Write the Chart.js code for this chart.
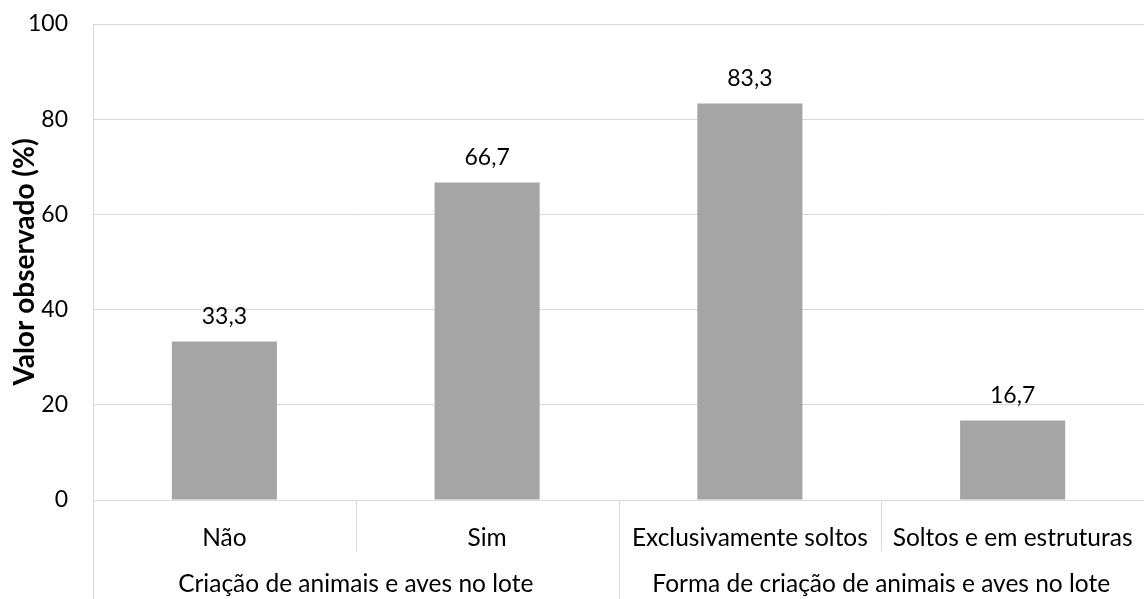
<!DOCTYPE html>
<html>
<head>
<meta charset="utf-8">
<script src="https://cdn.jsdelivr.net/npm/chart.js@4.4.0/dist/chart.umd.min.js"></script>
<style>
  body { margin: 0; background: #fff; }
  #wrap { width: 1144px; height: 599px; position: relative; }
</style>
</head>
<body>
<div id="wrap"><canvas id="myChart"></canvas></div>
<script>
// Data
const categories = ['Não', 'Sim', 'Exclusivamente soltos', 'Soltos e em estruturas'];
const values = [33.3, 66.7, 83.3, 16.7];
const groupLabels = ['Criação de animais e aves no lote', 'Forma de criação de animais e aves no lote'];
const groupSpans = [[0, 1], [2, 3]];
const yTicks = [0, 20, 40, 60, 80, 100];

const FONT = 'Lato, "Open Sans", sans-serif';
const NUM_SIZE = 23;
const TEXT_SIZE = 24.5;
const LINE = '#d9d9d9';

// value labels above the bars, group labels and separators below the axis
const extrasPlugin = {
  id: 'extras',
  afterDraw(chart) {
    const ctx = chart.ctx;
    const x = chart.scales.x;
    const area = chart.chartArea;
    const meta = chart.getDatasetMeta(0);

    ctx.save();
    ctx.fillStyle = '#000';
    ctx.textAlign = 'center';
    ctx.textBaseline = 'middle';
    ctx.font = NUM_SIZE + 'px ' + FONT;
    meta.data.forEach(function(bar, i) {
      ctx.fillText(values[i].toFixed(1).replace('.', ','), bar.x, bar.y - 25);
    });

    ctx.strokeStyle = LINE;
    ctx.lineWidth = 1;
    // separators between categories
    for (let i = 1; i < categories.length; i++) {
      const bx = Math.round((x.getPixelForValue(i - 1) + x.getPixelForValue(i)) / 2) + 0.5;
      const isGroupEdge = groupSpans.some(s => s[0] === i);
      ctx.beginPath();
      ctx.moveTo(bx, area.bottom);
      ctx.lineTo(bx, isGroupEdge ? chart.height : area.bottom + 51);
      ctx.stroke();
    }
    // left edge goes all the way down
    ctx.beginPath();
    ctx.moveTo(Math.round(area.left) + 0.5, area.bottom);
    ctx.lineTo(Math.round(area.left) + 0.5, chart.height);
    ctx.stroke();

    // group labels
    ctx.font = TEXT_SIZE + 'px ' + FONT;
    groupSpans.forEach(function(s, g) {
      const cx = (x.getPixelForValue(s[0]) + x.getPixelForValue(s[1])) / 2;
      ctx.fillText(groupLabels[g], cx, area.bottom + 84);
    });
    ctx.restore();
  }
};

const ctx = document.getElementById('myChart').getContext('2d');

var myChart = new Chart(ctx, {
  type: 'bar',
  data: {
    labels: categories,
    datasets: [{
      data: values,
      backgroundColor: '#a5a5a5',
      borderWidth: 0,
      categoryPercentage: 1,
      barPercentage: 0.4
    }]
  },
  options: {
    responsive: true,
    maintainAspectRatio: false,
    animation: false,
    layout: { padding: { top: 24, right: 0, left: 0, bottom: 0 } },
    plugins: {
      legend: { display: false },
      tooltip: { enabled: false }
    },
    scales: {
      x: {
        offset: true,
        grid: { display: false },
        border: { display: false },
        ticks: {
          color: '#000',
          padding: 15,
          maxRotation: 0,
          font: { family: FONT, size: TEXT_SIZE }
        },
        afterFit(scale) {
          scale.height = 99;
          scale.paddingLeft = 0;
          scale.paddingRight = 0;
        }
      },
      y: {
        min: 0,
        max: 100,
        afterBuildTicks(scale) { scale.ticks = yTicks.map(v => ({ value: v })); },
        grid: { color: LINE, drawTicks: false },
        border: { display: true, color: LINE },
        ticks: {
          color: '#000',
          padding: 25,
          font: { family: FONT, size: NUM_SIZE }
        },
        title: {
          display: true,
          text: 'Valor observado (%)',
          color: '#000',
          padding: { top: 8, bottom: 0 },
          font: { family: FONT, size: 28, weight: 'bold' }
        },
        afterFit(scale) {
          scale.width = 93;
          scale.paddingTop = 0;
          scale.paddingBottom = 0;
        }
      }
    }
  },
  plugins: [extrasPlugin]
});
</script>
</body>
</html>
